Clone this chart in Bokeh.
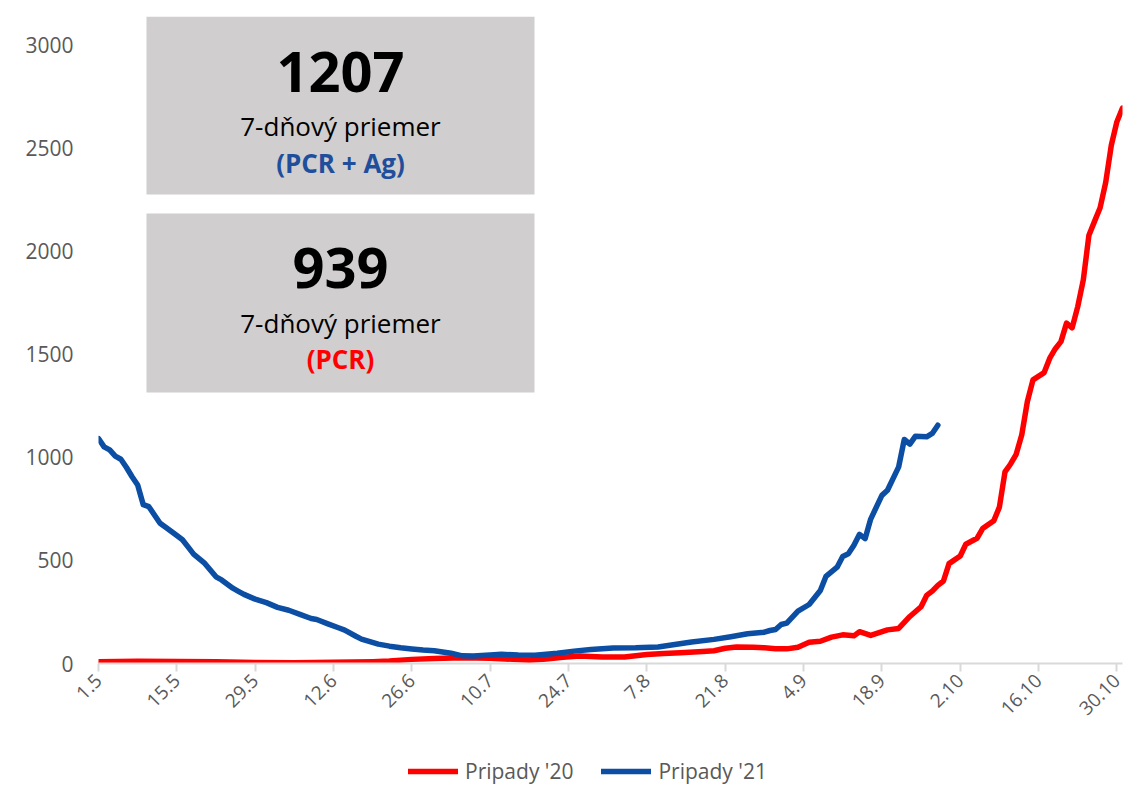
from bokeh.plotting import figure
from bokeh.layouts import column
from bokeh.models import Range1d, FixedTicker, BoxAnnotation, Label, Legend, LegendItem
from bokeh.embed import file_html
from bokeh.resources import INLINE
import math

# ---------------- data ----------------
tick_days = [0, 14, 28, 42, 56, 70, 84, 98, 112, 126, 140, 154, 168, 182]
tick_labels = ["1.5", "15.5", "29.5", "12.6", "26.6", "10.7", "24.7",
               "7.8", "21.8", "4.9", "18.9", "2.10", "16.10", "30.10"]

# days since 1.5
days_20 = [0, 7, 14, 21, 28, 35, 42, 49, 52, 56, 60, 65, 70, 74, 77, 80, 83, 86,
           90, 94, 98, 101, 104, 108, 110, 112, 114, 117, 119, 121, 123, 125, 127,
           129, 131, 133, 135, 136, 138, 141, 143, 145, 147, 148, 149, 150, 151,
           152, 154, 155, 157, 158, 160, 161, 162, 163, 164, 165, 166, 167, 169,
           170, 171, 172, 173, 174, 175, 176, 177, 178, 179, 180, 181, 182, 183]
cases_20 = [8, 11, 10, 8, 5, 4, 6, 9, 12, 20, 24, 28, 26, 20, 16, 22, 30, 36,
            31, 32, 44, 48, 52, 58, 62, 74, 80, 79, 76, 72, 71, 79, 103,
            108, 128, 139, 134, 154, 136, 163, 170, 228, 275, 330, 351, 379, 400,
            484, 521, 578, 607, 654, 692, 758, 929, 967, 1014, 1109, 1270, 1375, 1410,
            1480, 1526, 1560, 1650, 1627, 1730, 1860, 2076, 2143, 2209, 2332, 2512, 2626, 2692]

days_21 = [0, 1, 2, 3, 4, 5, 6, 7, 8, 9, 10, 11, 12, 14, 15, 16, 17, 19, 21, 22,
           24, 25, 26, 28, 30, 32, 34, 36, 38, 39, 41, 43, 44, 46, 47, 50, 52, 54,
           56, 58, 60, 63, 65, 67, 70, 72, 75, 78, 82, 85, 88, 92, 96, 100, 103,
           106, 110, 113, 116, 119, 120, 121, 122, 123, 125, 127, 129, 130, 132,
           133, 134, 135, 136, 137, 138, 140, 141, 143, 144, 145, 146, 148, 149, 150]
cases_21 = [1090, 1050, 1035, 1005, 990, 950, 905, 865, 770, 760, 720, 680, 660, 620, 600, 565, 530, 485, 420, 405,
            365, 350, 335, 312, 295, 272, 258, 238, 218, 213, 192, 172, 162, 132, 118, 94, 84, 76,
            70, 65, 62, 50, 37, 36, 41, 45, 41, 40, 50, 60, 68, 75, 76, 80, 92,
            104, 117, 130, 144, 152, 160, 165, 189, 196, 254, 286, 354, 422, 467,
            519, 532, 573, 626, 605, 700, 815, 840, 953, 1086, 1063, 1102, 1099, 1115, 1155]

series_names = ["Pripady '20", "Pripady '21"]
series_colors = ["#FF0000", "#0B4EA3"]

# ---------------- layout ----------------
FONT = "Open Sans"
W, H, HL = 1126, 745, 45
BL, BR, BT, BB = 98, 4, 16, 82
X_END, Y_END = 183, 3136
fw, fh = W - BL - BR, H - BT - BB

def dx(cx):
    return (cx - BL) / fw * X_END

def dy(cy):
    return (H - BB - cy) / fh * Y_END

p = figure(width=W, height=H, x_range=Range1d(0, X_END), y_range=Range1d(0, Y_END),
           output_backend="svg", toolbar_location=None,
           min_border_left=BL, min_border_right=BR, min_border_top=BT, min_border_bottom=BB)
p.outline_line_color = None
p.xgrid.visible = False
p.ygrid.visible = False
p.background_fill_color = "white"
p.border_fill_color = "white"

# info boxes
for top, bottom in [(16, 194), (213, 392)]:
    p.add_layout(BoxAnnotation(left=dx(146), right=dx(534), top=dy(top), bottom=dy(bottom),
                               fill_color="#D0CECE", fill_alpha=1.0, line_color=None,
                               level="underlay"))

texts = [
    ("1207", 71, "56px", "bold", "black"),
    ("7-dňový priemer", 125, "26px", "normal", "black"),
    ("(PCR + Ag)", 162, "26px", "bold", "#1F4E9C"),
    ("939", 267, "56px", "bold", "black"),
    ("7-dňový priemer", 322, "26px", "normal", "black"),
    ("(PCR)", 358, "26px", "bold", "#FF0000"),
]
for t, cy, fs, st, col in texts:
    p.add_layout(Label(x=dx(340), y=dy(cy), text=t, text_align="center",
                       text_baseline="alphabetic", text_font=FONT, text_font_size=fs,
                       text_font_style=st, text_color=col))

line_kw = dict(line_width=5.5, line_cap="round", line_join="round")
r20 = p.line(days_20, cases_20, line_color=series_colors[0], **line_kw)
r21 = p.line(days_21, cases_21, line_color=series_colors[1], **line_kw)

# axes
p.yaxis.ticker = FixedTicker(ticks=[0, 500, 1000, 1500, 2000, 2500, 3000])
p.yaxis.axis_line_color = None
p.yaxis.major_tick_line_color = None
p.yaxis.minor_tick_line_color = None
p.yaxis.major_label_text_font = FONT
p.yaxis.major_label_text_font_size = "21px"
p.yaxis.major_label_text_color = "#595959"
p.yaxis.major_label_standoff = 19

p.xaxis.ticker = FixedTicker(ticks=tick_days)
p.xaxis.major_label_overrides = {d: l for d, l in zip(tick_days, tick_labels)}
p.xaxis.major_label_orientation = math.pi / 4
p.xaxis.axis_line_color = "#D9D9D9"
p.xaxis.axis_line_width = 2
p.xaxis.major_tick_line_color = "#D9D9D9"
p.xaxis.major_tick_line_width = 2
p.xaxis.major_tick_out = 8
p.xaxis.major_tick_in = 0
p.xaxis.minor_tick_line_color = None
p.xaxis.major_label_text_font = FONT
p.xaxis.major_label_text_font_size = "19px"
p.xaxis.major_label_text_color = "#595959"
p.xaxis.major_label_standoff = 6

# legend strip below the chart (its own copies of the series lie outside its view)
pl = figure(width=W, height=HL, x_range=Range1d(-2, -1), y_range=Range1d(-2, -1),
            output_backend="svg", toolbar_location=None,
            x_axis_location=None, y_axis_location=None,
            min_border_left=0, min_border_right=0, min_border_top=0, min_border_bottom=0)
pl.xgrid.visible = False
pl.ygrid.visible = False
pl.outline_line_color = None
l20 = pl.line(days_20, cases_20, line_color=series_colors[0], **line_kw)
l21 = pl.line(days_21, cases_21, line_color=series_colors[1], **line_kw)
legend = Legend(items=[LegendItem(label=series_names[0], renderers=[l20]),
                       LegendItem(label=series_names[1], renderers=[l21])],
                orientation="horizontal", location=(310, 5),
                glyph_width=50, glyph_height=20, label_standoff=7, spacing=28,
                padding=0, margin=0, border_line_color=None, background_fill_alpha=0,
                label_text_font=FONT, label_text_font_size="21px",
                label_text_color="#595959")
pl.add_layout(legend, "center")

open("out.html", "w").write(file_html(column(p, pl, spacing=0), INLINE))
